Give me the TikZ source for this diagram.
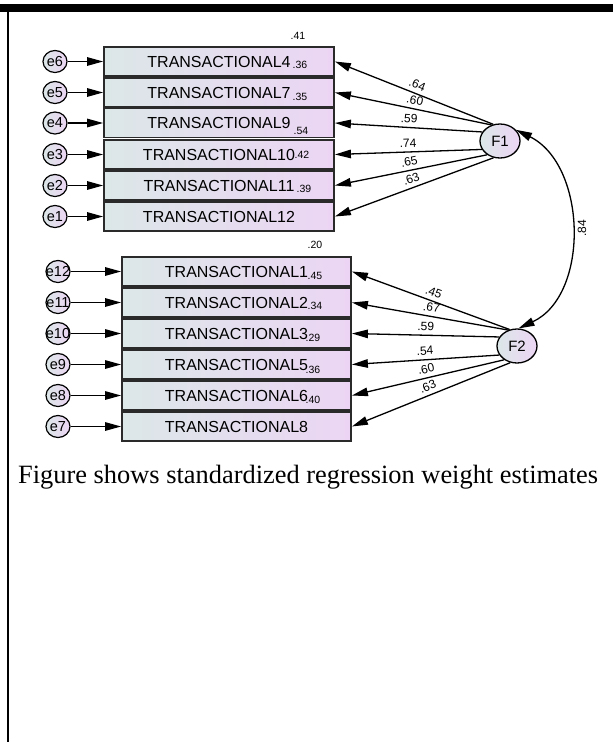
\documentclass[tikz,border=0pt]{standalone}
\usepackage{fontspec}
\setmainfont{Liberation Serif}
\setsansfont{Liberation Sans}
\usetikzlibrary{arrows.meta,shapes.geometric}

\definecolor{fillL}{HTML}{DCE7E8}
\definecolor{fillR}{HTML}{ECD5F4}
\definecolor{edgegray}{HTML}{2A2A2A}

\begin{document}
\begin{tikzpicture}[x=1pt,y=-1pt,
  obs/.style={draw=edgegray, line width=1.8pt, left color=fillL, right color=fillR,
    minimum width=230pt, minimum height=29pt, inner sep=0pt,
    font=\sffamily\fontsize{16}{18}\selectfont},
  err/.style={ellipse, draw=black, line width=1.2pt, left color=fillL, right color=fillR,
    minimum width=24pt, minimum height=22pt, inner sep=0pt,
    font=\sffamily\fontsize{14.5}{16}\selectfont},
  lat/.style={ellipse, draw=black, line width=1.3pt, left color=fillL, right color=fillR,
    minimum width=40pt, minimum height=34pt, inner sep=0pt,
    font=\sffamily\fontsize{15}{17}\selectfont},
  tip/.tip={Triangle[length=16pt,width=8.5pt]},
  reg/.style={-tip, line width=1.3pt},
  cov/.style={tip-tip, line width=1.3pt},
  lab/.style={inner sep=1pt, font=\sffamily\fontsize{12}{14}\selectfont},
  rsq/.style={inner sep=0pt, font=\sffamily\fontsize{10.5}{12}\selectfont},
]
\useasboundingbox (0,0) rectangle (613,742);

% page frame: top rule and left rule
\fill (0,4) rectangle (613,12);
\fill (7.3,12) rectangle (9.3,742);

% latent factors
\node[lat] (F1) at (500,141) {F1};
\node[lat] (F2) at (517,346) {F2};

% first factor: indicators with their error terms (labels may overhang the ellipse)
\foreach \i/\y/\t/\e in {1/61.5/4/6, 2/92.5/7/5, 3/123/9/4, 4/154.5/10/3, 5/185.5/11/2, 6/216.5/12/1} {
  \node[obs] (u\i) at (219,\y) {TRANSACTIONAL\t};
  \node[err] (eu\i) at (55,\y) {\makebox[0pt]{e\e}};
  \draw[reg] (eu\i) -- (u\i);
}

% second factor: indicators with their error terms
\foreach \i/\y/\t/\e in {1/271.5/1/12, 2/302.5/2/11, 3/333.5/3/10, 4/364.5/5/9, 5/395.5/6/8, 6/426.5/8/7} {
  \node[obs, minimum width=229pt] (l\i) at (236.5,\y) {TRANSACTIONAL\t};
  \node[err] (el\i) at (58,\y) {\makebox[0pt]{e\e}};
  \draw[reg] (el\i) -- (l\i);
}

% squared multiple correlations
\foreach \i/\x/\y/\v in {1/298/36/.41, 2/300/65/.36, 3/300/97/.35, 4/301/131/.54, 5/302/155/.42, 6/304/189/.39} {
  \node[rsq] (ru\i) at (\x,\y) {\v};
}
\foreach \i/\x/\y/\v in {1/315/245/.20, 2/315/276/.45, 3/315/306/.34, 4/313/338/.29, 5/313/370/.36, 6/313/400/.40} {
  \node[rsq] (rl\i) at (\x,\y) {\v};
}

% standardized loadings
\foreach \i/\a/\w in {1/112/.64, 2/118/.60, 3/153/.59, 4/205/.74, 5/227/.65, 6/249/.63} {
  \draw[reg] (F1.\a) -- (u\i.east) node[lab, pos=0.5, sloped, above=3pt] (wu\i) {\w};
}
\foreach \i/\a/\w in {1/114/.45, 2/119/.67, 3/153/.59, 4/207/.54, 5/227/.60, 6/248/.63} {
  \draw[reg] (F2.\a) -- (l\i.east) node[lab, pos=0.5, sloped, above=3pt] (wl\i) {\w};
}

% factor correlation
\draw[cov] (F1.35) .. controls (587,165) and (590,295) .. (F2.85);
\node[lab, rotate=90] (c12) at (582,228) {.84};

% caption
\node[anchor=base west, inner sep=0pt, font=\fontsize{26.4}{30}\selectfont] (cap) at (18,483)
  {Figure shows standardized regression weight estimates};
\end{tikzpicture}
\end{document}
